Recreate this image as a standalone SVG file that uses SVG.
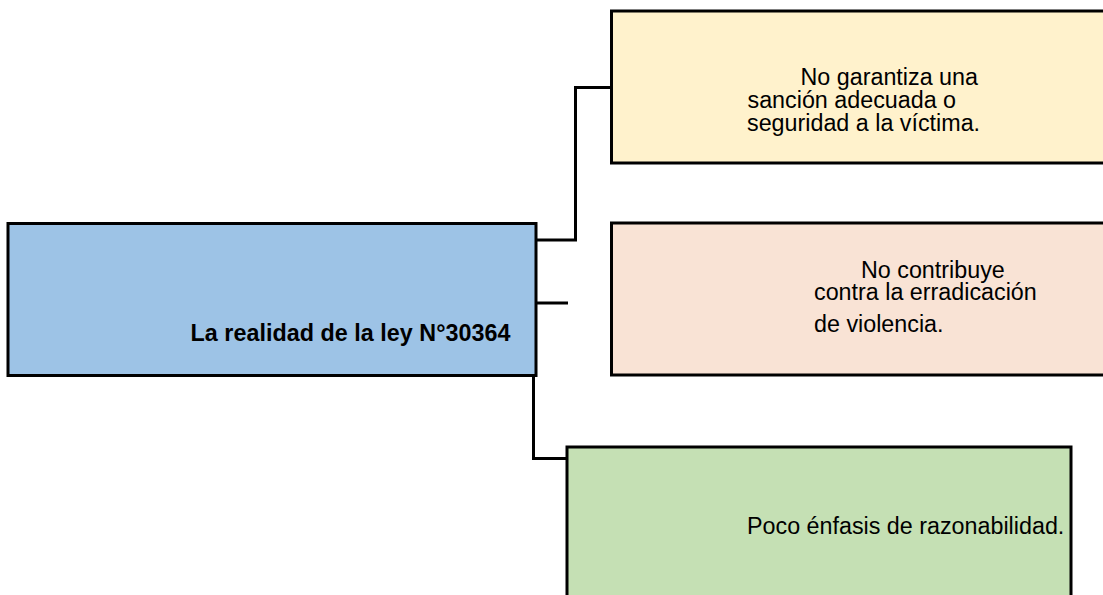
<svg xmlns="http://www.w3.org/2000/svg" width="1103" height="595" viewBox="0 0 1103 595">
<style>
.box{stroke:#000;stroke-width:3}
.t{font-family:"Liberation Sans",Arial,sans-serif;font-size:23.3px;fill:#000}
.b{font-weight:bold}
.c{fill:none;stroke:#000;stroke-width:3}
</style>
<rect width="1103" height="595" fill="#fff"/>
<g id="connectors">
<polyline class="c" points="536,240 575.5,240 575.5,87.5 612,87.5"/>
<polyline class="c" points="536,303 568,303"/>
<polyline class="c" points="533.5,375 533.5,458.5 567,458.5"/>
</g>
<g id="main">
<rect class="box" x="8" y="223.5" width="528" height="152" fill="#9dc3e6"/>
<text class="t b" x="190.5" y="341" textLength="320">La realidad de la ley N°30364</text>
</g>
<g id="n1">
<rect class="box" x="611.5" y="11" width="500" height="152" fill="#fff2cc"/>
<text class="t" x="800.5" y="85">No garantiza una</text>
<text class="t" x="747.5" y="108">sanción adecuada o</text>
<text class="t" x="747" y="131">seguridad a la víctima.</text>
</g>
<g id="n2">
<rect class="box" x="611.5" y="223" width="500" height="152" fill="#f9e3d5"/>
<text class="t" x="861" y="277.5">No contribuye</text>
<text class="t" x="814" y="300">contra la erradicación</text>
<text class="t" x="814" y="332">de violencia.</text>
</g>
<g id="n3">
<rect class="box" x="567" y="447" width="504" height="160" fill="#c5e0b4"/>
<text class="t" x="747" y="533.5">Poco énfasis de razonabilidad.</text>
</g>
</svg>
